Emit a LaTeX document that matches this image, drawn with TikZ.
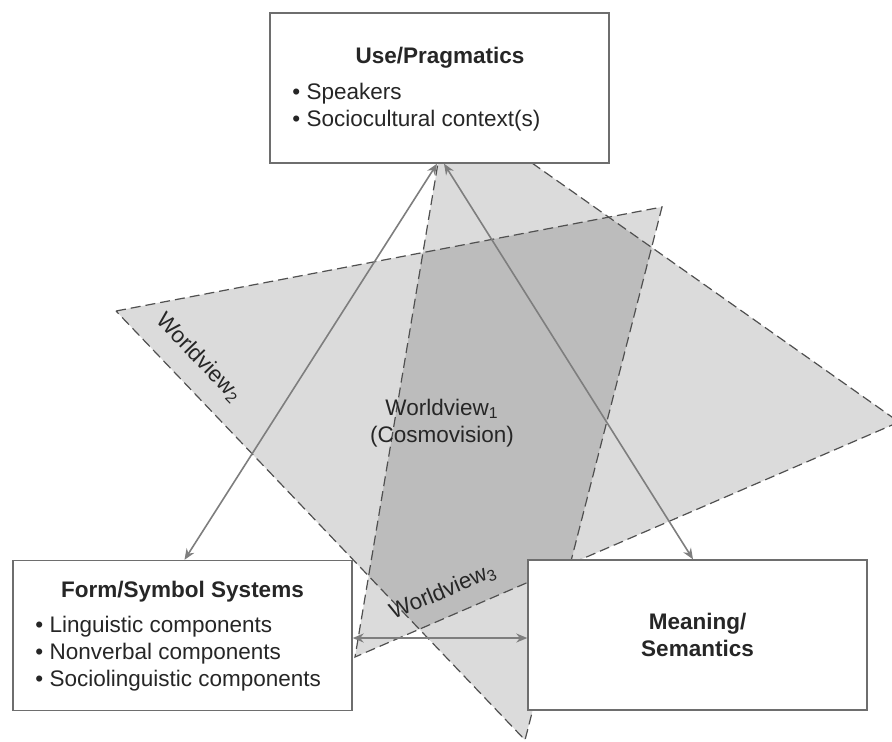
\documentclass[tikz,border=0pt]{standalone}
\usepackage{fontspec}
\setmainfont{Liberation Sans}
\usetikzlibrary{arrows.meta}

\definecolor{boxgray}{HTML}{6E6E6E}
\definecolor{rimgray}{HTML}{505050}
\definecolor{linkgray}{HTML}{7E7E7E}
\definecolor{inkgray}{HTML}{262626}

\begin{document}
\begin{tikzpicture}[x=0.5pt,y=-0.5pt,
  box/.style={draw=boxgray,line width=0.7pt,fill=white,minimum width=169.5pt,minimum height=75pt,inner sep=0pt},
  head/.style={font=\fontsize{11.25}{13.25}\selectfont\bfseries,text=inkgray,anchor=base,inner sep=0pt},
  item/.style={font=\fontsize{11.25}{13.25}\selectfont,text=inkgray,anchor=base west,inner sep=0pt},
  wv/.style={font=\fontsize{11.25}{13.25}\selectfont,text=inkgray,inner sep=0pt},
  plane/.style={fill=black,fill opacity=0.14},
  rim/.style={draw=rimgray,line width=0.6pt,dash pattern=on 5pt off 2.5pt},
  link/.style={draw=linkgray,line width=0.8pt,{Stealth[length=5.5pt,width=4.5pt]}-{Stealth[length=5.5pt,width=4.5pt]}}]
\useasboundingbox (0,0) rectangle (892,741);
\coordinate (two-l) at (116,311);
\coordinate (two-t) at (662,207);
\coordinate (two-b) at (525,740);
\coordinate (three-a) at (532,163);
\coordinate (three-r) at (899,422);
\coordinate (three-b) at (355,657);
\coordinate (three-c) at (438,163);
\fill[plane] (two-l) -- (two-t) -- (two-b) -- cycle;
\fill[plane] (three-c) -- (three-a) -- (three-r) -- (three-b) -- cycle;
\draw[rim] (two-l) -- (two-t) -- (two-b) -- cycle;
\draw[rim] (three-a) -- (three-r) -- (three-b) -- (three-c);
\node[wv,align=center] (wv-one) at (442,423) {Worldview\textsubscript{1}\\(Cosmovision)};
\node[wv,rotate=-46] (wv-two) at (199,358) {Worldview\textsubscript{2}};
\node[wv,rotate=23] (wv-three) at (443,592) {Worldview\textsubscript{3}};
\node[box] (use) at (439.5,88) {};
\node[head] (use-title) at (440,63) {Use/Pragmatics};
\foreach \t [count=\i] in {Speakers,Sociocultural context(s)}
\node[item] (use-\i) at (292,{72+27*\i}) {\textbullet\ \t};
\node[box] (form) at (182.5,635.5) {};
\node[head] (form-title) at (182.5,597) {Form/Symbol Systems};
\foreach \t [count=\i] in {Linguistic components,Nonverbal components,Sociolinguistic components}
\node[item] (form-\i) at (35,{605+27*\i}) {\textbullet\ \t};
\node[box,align=center,font=\fontsize{11.25}{13.25}\selectfont\bfseries,text=inkgray] (meaning) at (697.5,635) {Meaning/\\Semantics};
\draw[link] ([xshift=-1.25pt]use.south) -- ([xshift=1pt]form.north);
\draw[link] ([xshift=2.25pt]use.south) -- ([xshift=-2.25pt]meaning.north);
\draw[link] ([yshift=-1.25pt]form.east) -- ([yshift=-1.5pt]meaning.west);
\end{tikzpicture}
\end{document}
